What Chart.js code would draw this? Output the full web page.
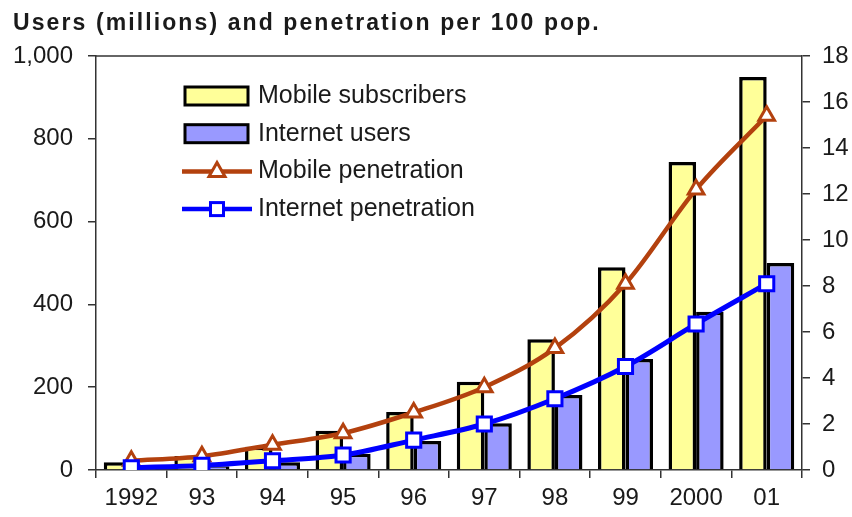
<!DOCTYPE html>
<html>
<head>
<meta charset="utf-8">
<script src="https://cdn.jsdelivr.net/npm/chart.js@4.4.0/dist/chart.umd.min.js"></script>
<style>
  html, body { margin: 0; padding: 0; background: #fff; }
  #wrap { width: 852px; height: 517px; }
</style>
</head>
<body>
<div id="wrap"><canvas id="myChart" width="852" height="517"></canvas></div>
<script>
// Chart data
const chartTitle = 'Users (millions) and penetration per 100 pop.';
const years = ['1992', '93', '94', '95', '96', '97', '98', '99', '2000', '01'];
const mobileSubscribers = [19, 34, 56, 95, 140, 213, 316, 490, 744, 949];
const internetUsers = [5, 9, 19, 39, 70, 113, 181, 268, 382, 500];
const mobilePenetration = [0.4, 0.6, 1.1, 1.6, 2.5, 3.6, 5.3, 8.1, 12.2, 15.4];
const internetPenetration = [0.1, 0.2, 0.4, 0.65, 1.3, 2.0, 3.1, 4.5, 6.35, 8.1];
const leftTicks = [0, 200, 400, 600, 800, 1000];
const rightTicks = [0, 2, 4, 6, 8, 10, 12, 14, 16, 18];

const FONT = 'Liberation Sans, Arial, sans-serif';
const axisColor = '#333';
const textColor = '#1a1a1a';

// Draws the title, the frame round the plot and the legend inside it
const frameAndLegend = {
  id: 'frameAndLegend',
  afterDraw(chart) {
    const { ctx, chartArea: a } = chart;
    ctx.save();

    // title, spaced out like the original
    ctx.font = 'bold 23px ' + FONT;
    ctx.fillStyle = textColor;
    ctx.textBaseline = 'alphabetic';
    ctx.letterSpacing = '2.1px';
    ctx.fillText(chartTitle, 13, 30);
    ctx.letterSpacing = '0px';

    // top edge of the frame
    ctx.strokeStyle = axisColor;
    ctx.lineWidth = 1.5;
    ctx.beginPath();
    ctx.moveTo(a.left, a.top);
    ctx.lineTo(a.right, a.top);
    ctx.stroke();

    // legend
    const ds = chart.data.datasets;
    const x0 = a.left + 89;
    let y = a.top + 40;
    ctx.font = '25px ' + FONT;
    ctx.textBaseline = 'middle';
    ds.forEach(d => {
      if (d.type === 'bar') {
        ctx.fillStyle = d.backgroundColor;
        ctx.fillRect(x0, y - 9, 63, 18);
        ctx.lineWidth = 3;
        ctx.strokeStyle = '#000';
        ctx.strokeRect(x0, y - 9, 63, 18);
      } else {
        ctx.strokeStyle = d.borderColor;
        ctx.lineWidth = 4.5;
        ctx.beginPath();
        ctx.moveTo(x0 - 3, y);
        ctx.lineTo(x0 + 67, y);
        ctx.stroke();
        ctx.fillStyle = '#fff';
        ctx.lineWidth = 3;
        const cx = x0 + 32;
        if (d.pointStyle === 'triangle') {
          ctx.beginPath();
          ctx.moveTo(cx, y - 9);
          ctx.lineTo(cx + 8, y + 5);
          ctx.lineTo(cx - 8, y + 5);
          ctx.closePath();
          ctx.fill();
          ctx.stroke();
        } else {
          ctx.fillRect(cx - 6.5, y - 6.5, 13, 13);
          ctx.strokeRect(cx - 6.5, y - 6.5, 13, 13);
        }
      }
      ctx.fillStyle = textColor;
      ctx.fillText(d.label, x0 + 73, y);
      y += 37.7;
    });
    ctx.restore();
  }
};

const ctx = document.getElementById('myChart');

new Chart(ctx, {
  data: {
    labels: years,
    datasets: [
      {
        type: 'bar',
        label: 'Mobile subscribers',
        data: mobileSubscribers,
        backgroundColor: '#FFFF99',
        borderColor: '#000',
        borderWidth: 3.5,
        yAxisID: 'y',
        order: 2,
        categoryPercentage: 0.78,
        barPercentage: 1.0,
      },
      {
        type: 'bar',
        label: 'Internet users',
        data: internetUsers,
        backgroundColor: '#9999FF',
        borderColor: '#000',
        borderWidth: 3.5,
        yAxisID: 'y',
        order: 2,
        categoryPercentage: 0.78,
        barPercentage: 1.0,
      },
      {
        type: 'line',
        label: 'Mobile penetration',
        data: mobilePenetration,
        borderColor: '#B3410E',
        borderWidth: 4.5,
        tension: 0.4,
        cubicInterpolationMode: 'monotone',
        pointStyle: 'triangle',
        pointRadius: 9,
        pointBorderWidth: 3,
        pointBackgroundColor: '#fff',
        pointBorderColor: '#B3410E',
        yAxisID: 'y2',
        order: 1,
      },
      {
        type: 'line',
        label: 'Internet penetration',
        data: internetPenetration,
        borderColor: '#0000FF',
        borderWidth: 5,
        tension: 0.4,
        cubicInterpolationMode: 'monotone',
        pointStyle: 'rect',
        pointRadius: 10,
        pointBorderWidth: 3,
        pointBackgroundColor: '#fff',
        pointBorderColor: '#0000FF',
        yAxisID: 'y2',
        order: 0,
      },
    ],
  },
  options: {
    responsive: false,
    animation: false,
    layout: { padding: { left: 0, right: 0, top: 56, bottom: 0 } },
    plugins: {
      legend: { display: false },
      tooltip: { enabled: false },
      title: { display: false },
    },
    scales: {
      x: {
        offset: true,
        grid: { display: true, drawOnChartArea: false, offset: true, tickLength: 8, color: axisColor, lineWidth: 1.5 },
        border: { display: true, color: axisColor, width: 1.5 },
        ticks: { color: textColor, font: { family: FONT, size: 24 }, padding: 6, maxRotation: 0 },
        afterFit(s) { s.height = 47; },
      },
      y: {
        position: 'left',
        min: 0,
        max: 1000,
        afterBuildTicks(s) { s.ticks = leftTicks.map(v => ({ value: v })); },
        grid: { display: true, drawOnChartArea: false, tickLength: 8, color: axisColor, lineWidth: 1.5 },
        border: { display: true, color: axisColor, width: 1.5 },
        ticks: {
          color: textColor,
          font: { family: FONT, size: 24 },
          padding: 15,
          callback: v => v.toLocaleString('en-US'),
        },
        afterFit(s) { s.width = 96; },
      },
      y2: {
        position: 'right',
        min: 0,
        max: 18,
        afterBuildTicks(s) { s.ticks = rightTicks.map(v => ({ value: v })); },
        grid: { display: true, drawOnChartArea: false, tickLength: 8, color: axisColor, lineWidth: 1.5 },
        border: { display: true, color: axisColor, width: 1.5 },
        ticks: { color: textColor, font: { family: FONT, size: 24 }, padding: 12 },
        afterFit(s) { s.width = 50; },
      },
    },
  },
  plugins: [frameAndLegend],
});
</script>
</body>
</html>
